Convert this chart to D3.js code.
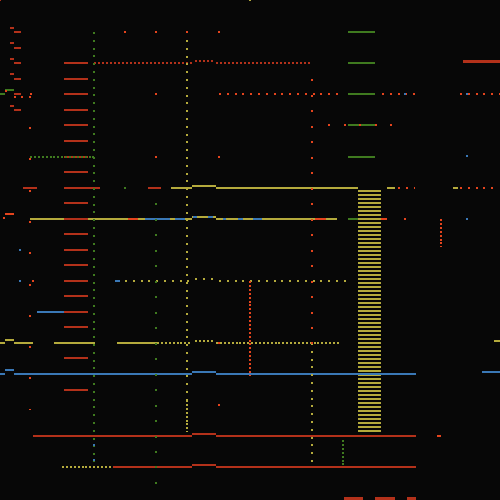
<!DOCTYPE html>
<html>
<head>
<meta charset="utf-8">
<script src="https://cdn.jsdelivr.net/npm/d3@7"></script>
<style>
  html, body { margin: 0; padding: 0; background: #070707; }
  svg { display: block; }
</style>
</head>
<body>
<div class="chart"></div>
<script>
// glitch-grid chart: every mark, in picture units (0-500)

// solid segments: [x1, x2, y, series]
var segments = [
  [14, 21, 32, "red"], [14, 21, 48, "red"], [14, 21, 63, "red"], [14, 21, 79, "red"],
  [14, 21, 94, "red"], [14, 21, 110, "red"],
  [10, 14, 28, "red"], [10, 14, 43, "red"], [10, 14, 59, "red"], [10, 14, 74, "red"], [10, 14, 106, "red"],
  [5, 14, 90, "green"], [0, 5, 94, "green"],
  [64, 88, 63, "red"], [64, 88, 79, "red"], [64, 88, 94, "red"], [64, 88, 110, "red"],
  [64, 88, 125, "red"], [64, 88, 141, "red"], [64, 88, 157, "red"], [64, 88, 172, "red"],
  [64, 88, 203, "red"], [64, 88, 234, "red"], [64, 88, 250, "red"], [64, 88, 265, "red"],
  [64, 88, 281, "red"], [64, 88, 296, "red"], [64, 88, 312, "red"], [64, 88, 327, "red"],
  [64, 88, 358, "red"], [64, 88, 390, "red"],
  [23, 37, 188, "red"], [64, 100, 188, "red"], [148, 161, 188, "red"],
  [5, 14, 214, "orange"],
  // yellow band at 188
  [171, 192, 188, "yellow"], [192, 216, 186, "yellow"], [216, 358, 188, "yellow"],
  [387, 395, 188, "yellow"], [453, 458, 188, "yellow"],
  // yellow band at 219
  [30, 192, 219, "yellow"], [192, 216, 217, "yellow"], [216, 337, 219, "yellow"],
  [64, 88, 219, "red"], [128, 138, 219, "orange"],
  [145, 170, 219, "blue"], [175, 185, 219, "blue"], [193, 197, 217, "blue"], [208, 213, 217, "blue"],
  [223, 226, 219, "blue"], [238, 243, 219, "blue"], [253, 262, 219, "blue"],
  [315, 326, 219, "orange"], [348, 358, 219, "green"], [381, 387, 219, "orange"],
  // green ladder on the right
  [348, 375, 32, "green"], [348, 375, 63, "green"], [348, 375, 94, "green"],
  [348, 375, 125, "green"], [348, 375, 157, "green"],
  [115, 120, 281, "blue"], [37, 64, 312, "blue"],
  // yellow band at 343
  [0, 5, 343, "yellow"], [5, 14, 340, "yellow"], [14, 33, 343, "yellow"],
  [54, 95, 343, "yellow"], [117, 157, 343, "yellow"], [494, 500, 341, "yellow"],
  // blue band at 374
  [0, 5, 374, "blue"], [5, 14, 370, "blue"], [14, 192, 374, "blue"], [192, 216, 372, "blue"],
  [216, 416, 374, "blue"], [482, 500, 372, "blue"],
  // red bands at 436 and 467
  [33, 192, 436, "red"], [192, 216, 434, "red"], [216, 416, 436, "red"], [437, 441, 436, "orange"],
  [113, 192, 467, "red"], [192, 216, 465, "red"], [216, 416, 467, "red"]
];

// heavier segments: [x1, x2, y, series]
var thickSegments = [
  [463, 500, 61, "red"],
  [344, 363, 498, "red"], [375, 395, 498, "red"], [407, 416, 498, "red"]
];

// dotted rows: [x1, x2, y, spacing, series]
var dotRows = [
  [94, 192, 63, 4, "red"], [195, 215, 61, 4, "red"], [216, 312, 63, 4, "red"],
  [219, 340, 94, 7.8, "orange"], [382, 415, 94, 7.8, "orange"], [460, 500, 94, 7.8, "orange"],
  [328, 406, 125, 15.5, "orange"],
  [30, 94, 157, 3.9, "green"],
  [398, 415, 188, 7.8, "orange"], [460, 494, 188, 7.8, "orange"],
  [125, 192, 281, 7.8, "yellow"], [195, 215, 279, 7.8, "yellow"], [219, 352, 281, 7.8, "yellow"],
  [157, 192, 343, 3.9, "yellow"], [195, 215, 341, 3.9, "yellow"], [216, 340, 343, 3.9, "yellow"],
  [62, 112, 467, 3.9, "yellow"]
];

// dotted columns: [x, y1, y2, spacing, series]
var dotCols = [
  [94, 32, 462, 7.8, "green"],
  [156, 203, 485, 15.5, "green"],
  [187, 40, 400, 7.8, "yellow"], [187, 400, 432, 3.9, "yellow"],
  [312, 79, 336, 15.5, "orange"], [312, 343, 462, 7.8, "yellow"],
  [250, 281, 376, 3.9, "orange"],
  [441, 219, 247, 3.9, "orange"],
  [343, 440, 466, 3.9, "green"],
  [30, 127, 410, 31.3, "orange"]
];

// striped block: [x1, x2, y1, y2, spacing, series]
var stripeBlocks = [
  [358, 381, 190, 434, 4, "yellow"]
];

// single dots: [x, y, series]
var points = [
  [0, 0, "red"], [250, 0, "yellow"],
  [125, 32, "orange"], [156, 32, "orange"], [187, 32, "orange"], [219, 32, "orange"],
  [156, 94, "orange"], [156, 157, "orange"], [219, 157, "orange"],
  [6, 91, "orange"], [15, 97, "orange"], [22, 97, "orange"], [31, 94, "orange"], [30, 97, "orange"],
  [4, 218, "orange"], [125, 188, "green"],
  [20, 250, "blue"], [20, 281, "blue"], [33, 281, "orange"],
  [467, 156, "blue"], [405, 94, "blue"], [467, 94, "blue"],
  [405, 219, "orange"], [467, 219, "blue"],
  [219, 405, "orange"], [219, 343, "orange"], [312, 343, "orange"],
  [94, 445, "blue"], [94, 460, "blue"]
];

var palette = {
  red: "#b3311a",
  orange: "#e4441d",
  yellow: "#b4aa3c",
  blue: "#3a78b6",
  green: "#3f7a1f"
};

var svgWidth = 500;
var svgHeight = 500;

var svg = d3.select(".chart")
  .append("svg")
  .attr("width", svgWidth)
  .attr("height", svgHeight)
  .attr("shape-rendering", "crispEdges");

svg.append("rect")
  .attr("width", svgWidth)
  .attr("height", svgHeight)
  .attr("fill", "#070707");

var x = d3.scaleLinear().domain([0, 500]).range([0, svgWidth]);
var y = d3.scaleLinear().domain([0, 500]).range([0, svgHeight]);

var chartGroup = svg.append("g");

// striped block (drawn first, lines go over it)
chartGroup.selectAll(".stripe")
  .data(stripeBlocks)
  .enter()
  .append("line")
  .attr("class", "stripe")
  .attr("x1", d => x((d[0] + d[1]) / 2))
  .attr("x2", d => x((d[0] + d[1]) / 2))
  .attr("y1", d => y(d[2]))
  .attr("y2", d => y(d[3]))
  .attr("stroke", d => palette[d[5]])
  .attr("stroke-width", d => x(d[1]) - x(d[0]))
  .attr("stroke-dasharray", d => `2 ${d[4] - 2}`);

chartGroup.selectAll(".seg")
  .data(segments)
  .enter()
  .append("line")
  .attr("class", "seg")
  .attr("x1", d => x(d[0]))
  .attr("x2", d => x(d[1]))
  .attr("y1", d => y(d[2]))
  .attr("y2", d => y(d[2]))
  .attr("stroke", d => palette[d[3]])
  .attr("stroke-width", 2);

chartGroup.selectAll(".thick")
  .data(thickSegments)
  .enter()
  .append("line")
  .attr("class", "thick")
  .attr("x1", d => x(d[0]))
  .attr("x2", d => x(d[1]))
  .attr("y1", d => y(d[2]))
  .attr("y2", d => y(d[2]))
  .attr("stroke", d => palette[d[3]])
  .attr("stroke-width", 3);

chartGroup.selectAll(".dotrow")
  .data(dotRows)
  .enter()
  .append("line")
  .attr("class", "dotrow")
  .attr("x1", d => x(d[0]))
  .attr("x2", d => x(d[1]))
  .attr("y1", d => y(d[2]))
  .attr("y2", d => y(d[2]))
  .attr("stroke", d => palette[d[4]])
  .attr("stroke-width", 2)
  .attr("stroke-dasharray", d => `2 ${d[3] - 2}`);

chartGroup.selectAll(".dotcol")
  .data(dotCols)
  .enter()
  .append("line")
  .attr("class", "dotcol")
  .attr("x1", d => x(d[0]))
  .attr("x2", d => x(d[0]))
  .attr("y1", d => y(d[1]))
  .attr("y2", d => y(d[2]))
  .attr("stroke", d => palette[d[4]])
  .attr("stroke-width", 2)
  .attr("stroke-dasharray", d => `2 ${d[3] - 2}`);

chartGroup.selectAll(".pt")
  .data(points)
  .enter()
  .append("rect")
  .attr("class", "pt")
  .attr("x", d => x(d[0]) - 1)
  .attr("y", d => y(d[1]) - 1)
  .attr("width", 2)
  .attr("height", 2)
  .attr("fill", d => palette[d[2]]);
</script>
</body>
</html>
